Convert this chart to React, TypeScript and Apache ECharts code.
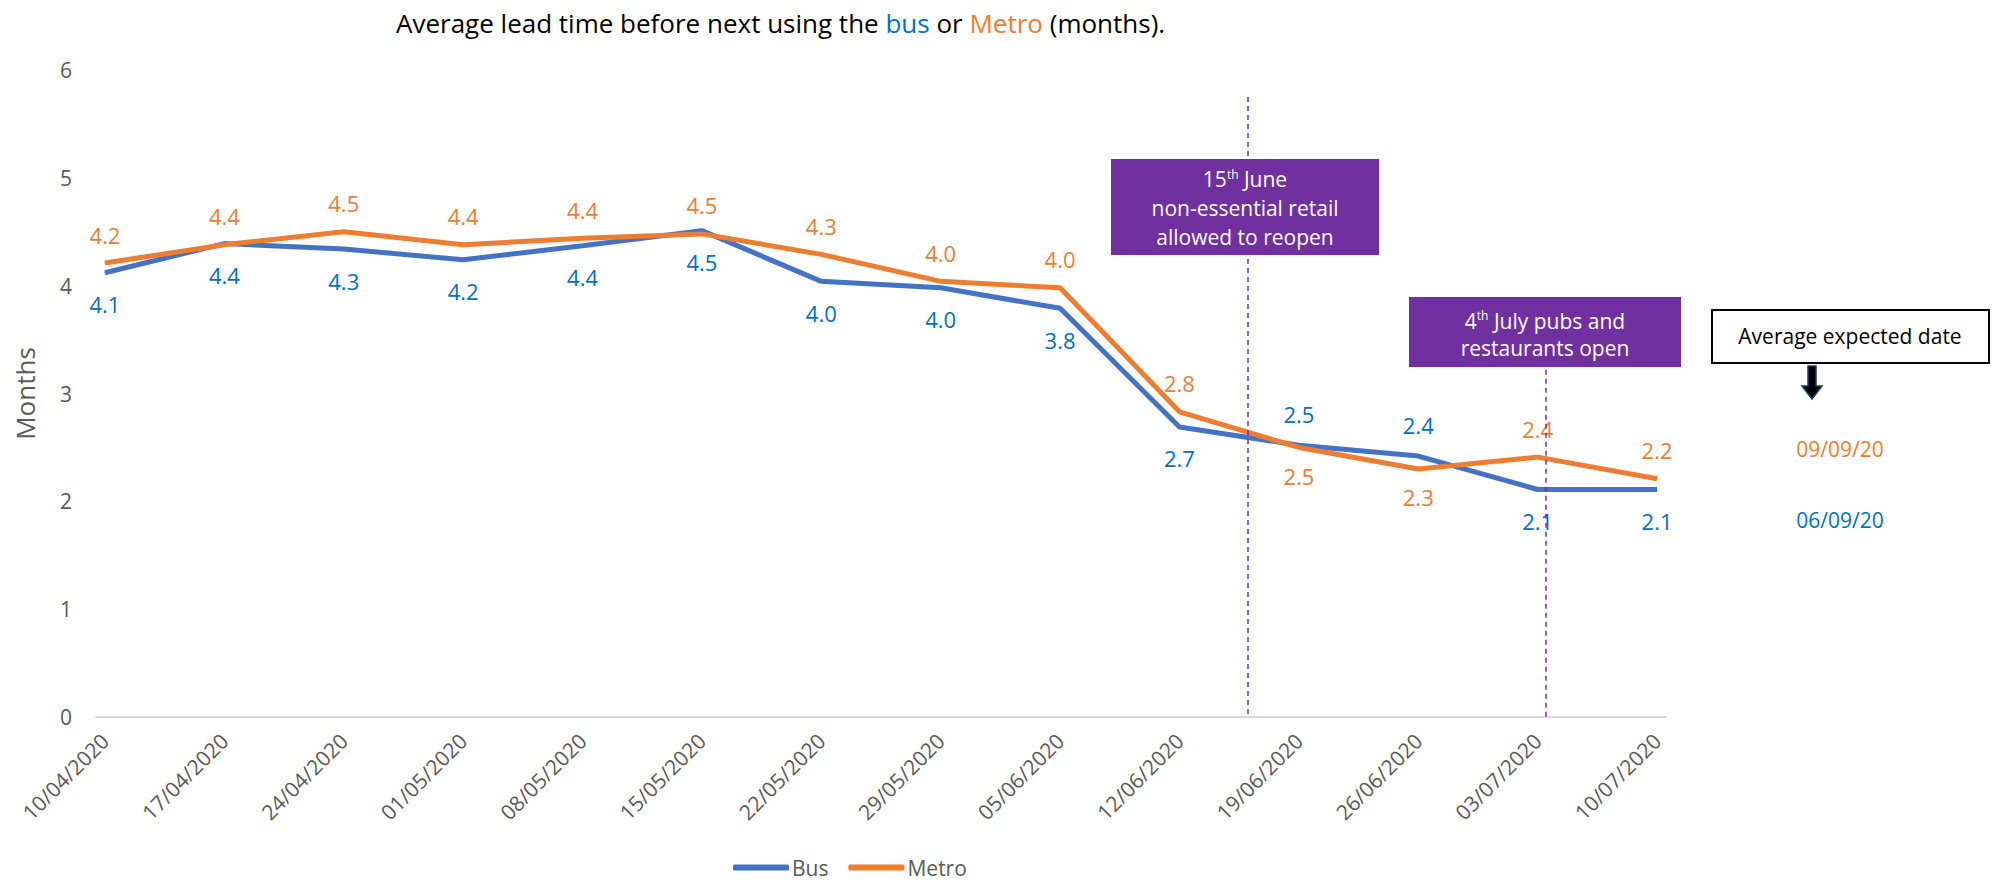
import React, { useEffect, useRef } from "react";
import * as echarts from "echarts";

const categories = [
  "10/04/2020", "17/04/2020", "24/04/2020", "01/05/2020", "08/05/2020", "15/05/2020", "22/05/2020",
  "29/05/2020", "05/06/2020", "12/06/2020", "19/06/2020", "26/06/2020", "03/07/2020", "10/07/2020",
];
const busValues = [4.12, 4.39, 4.34, 4.24, 4.37, 4.51, 4.04, 3.98, 3.79, 2.69, 2.52, 2.42, 2.11, 2.11];
const metroValues = [4.21, 4.38, 4.5, 4.38, 4.44, 4.48, 4.29, 4.04, 3.98, 2.83, 2.5, 2.3, 2.41, 2.21];
const yTicks = [0, 1, 2, 3, 4, 5, 6];
const eventLines = [
  { x: 9.57, top: 5.75 },
  { x: 12.07, top: 3.22 },
];
const expectedDates = { metro: "09/09/20", bus: "06/09/20" };

const busLabelPos = ["bottom", "bottom", "bottom", "bottom", "bottom", "bottom", "bottom", "bottom", "bottom", "bottom", "top", "top", "bottom", "bottom"];
const metroLabelPos = ["top", "top", "top", "top", "top", "top", "top", "top", "top", "top", "bottom", "bottom", "top", "top"];

const FONT = "'Open Sans', Lato, sans-serif";
const GREY = "#595959";
const BUS = "#4472C4";
const BUS_TXT = "#0070C0";
const METRO = "#ED7D31";
const PURPLE = "#7030A0";

export default function App() {
  const ref = useRef<HTMLDivElement>(null);
  useEffect(() => {
    if (!ref.current) return;
    const chart = echarts.init(ref.current, undefined, { renderer: "svg" });
    const fmt = (p: any) => Number(p.value[1]).toFixed(1);
    chart.setOption({
      animation: false,
      textStyle: { fontFamily: FONT },
      title: {
        text: "{a|Average lead time before next using the }{b|bus}{a| or }{c|Metro}{a| (months).}",
        left: 391,
        top: 5,
        textStyle: {
          rich: {
            a: { fontSize: 26, color: "#000", fontFamily: FONT, fontWeight: 500 },
            b: { fontSize: 26, color: BUS_TXT, fontFamily: FONT, fontWeight: 500 },
            c: { fontSize: 26, color: METRO, fontFamily: FONT, fontWeight: 500 },
          },
        },
      },
      legend: {
        data: ["Bus", "Metro"],
        icon: "roundRect",
        left: 728,
        top: 852,
        itemWidth: 56,
        itemHeight: 6,
        itemGap: 20,
        textStyle: { color: GREY, fontSize: 21, fontFamily: FONT, padding: [0, 0, 0, -2] },
      },
      grid: { left: 96, right: 331, top: 70, bottom: 167 },
      xAxis: {
        type: "value",
        min: -0.075,
        max: 13.075,
        splitLine: { show: false },
        axisLine: { show: true, lineStyle: { color: "#D9D9D9", width: 2 } },
        axisTick: { show: false },
        axisLabel: {
          customValues: categories.map((_, i) => i),
          formatter: (v: number) => categories[Math.round(v)],
          rotate: 45,
          color: GREY,
          fontSize: 21,
          fontFamily: FONT,
          margin: 20,
        },
      },
      yAxis: {
        type: "value",
        min: yTicks[0],
        max: yTicks[yTicks.length - 1],
        interval: 1,
        name: "Months",
        nameLocation: "middle",
        nameRotate: 90,
        nameGap: 58,
        nameTextStyle: { color: GREY, fontSize: 26, fontFamily: FONT },
        splitLine: { show: false },
        axisLine: { show: false },
        axisTick: { show: false },
        axisLabel: { color: GREY, fontSize: 21, fontFamily: FONT, margin: 24 },
      },
      series: [
        {
          name: "Bus",
          type: "line",
          symbol: "circle",
          symbolSize: 1,
          color: BUS,
          itemStyle: { color: BUS },
          lineStyle: { width: 5, color: BUS },
          label: { show: true, formatter: fmt, color: BUS_TXT, fontSize: 22, fontFamily: FONT, distance: 20 },
          data: busValues.map((v, i) => ({ value: [i, v], label: { position: busLabelPos[i] } })),
          z: 3,
        },
        {
          name: "Metro",
          type: "line",
          symbol: "circle",
          symbolSize: 1,
          color: METRO,
          itemStyle: { color: METRO },
          lineStyle: { width: 5, color: METRO },
          label: { show: true, formatter: fmt, color: METRO, fontSize: 22, fontFamily: FONT, distance: 17 },
          data: metroValues.map((v, i) => ({ value: [i, v], label: { position: metroLabelPos[i] } })),
          z: 4,
          markLine: {
            silent: true,
            symbol: "none",
            label: { show: false },
            lineStyle: { color: PURPLE, type: [5, 4], width: 1.5 },
            data: eventLines.map((e) => [{ coord: [e.x, e.top] }, { coord: [e.x, 0] }]),
          },
        },
      ],
      graphic: [
        {
          type: "rect",
          z: 100,
          shape: { x: 1111, y: 159, width: 268, height: 96 },
          style: { fill: PURPLE },
        },
        {
          type: "text",
          z: 101,
          x: 1245,
          y: 208,
          style: {
            text: "{n|15}{s|th}{n| June}\n{n|non-essential retail}\n{n|allowed to reopen}",
            align: "center",
            verticalAlign: "middle",
            fill: "#fff",
            rich: {
              n: { fontSize: 21, fill: "#fff", fontFamily: FONT, lineHeight: 29 },
              s: { fontSize: 12, fill: "#fff", fontFamily: FONT, lineHeight: 29, padding: [0, 0, 10, 0] },
            },
          },
        },
        {
          type: "rect",
          z: 100,
          shape: { x: 1409, y: 297, width: 272, height: 70 },
          style: { fill: PURPLE },
        },
        {
          type: "text",
          z: 101,
          x: 1545,
          y: 334,
          style: {
            text: "{n|4}{s|th}{n| July pubs and}\n{n|restaurants open}",
            align: "center",
            verticalAlign: "middle",
            fill: "#fff",
            rich: {
              n: { fontSize: 21, fill: "#fff", fontFamily: FONT, lineHeight: 27 },
              s: { fontSize: 12, fill: "#fff", fontFamily: FONT, lineHeight: 27, padding: [0, 0, 10, 0] },
            },
          },
        },
        {
          type: "rect",
          z: 100,
          shape: { x: 1712, y: 310, width: 277, height: 53 },
          style: { fill: "#fff", stroke: "#000", lineWidth: 2 },
        },
        {
          type: "text",
          z: 101,
          x: 1850,
          y: 336,
          style: {
            text: "Average expected date",
            align: "center",
            verticalAlign: "middle",
            fill: "#000",
            fontSize: 21,
            fontFamily: FONT,
          },
        },
        {
          type: "polygon",
          z: 101,
          shape: {
            points: [
              [1808, 366], [1816, 366], [1816, 386], [1822, 386], [1812, 399], [1802, 386], [1808, 386],
            ],
          },
          style: { fill: "#000", stroke: "#1F3864", lineWidth: 1.5 },
        },
        {
          type: "text",
          z: 101,
          x: 1840,
          y: 449,
          style: { text: expectedDates.metro, align: "center", verticalAlign: "middle", fill: METRO, fontSize: 21, fontFamily: FONT },
        },
        {
          type: "text",
          z: 101,
          x: 1840,
          y: 520,
          style: { text: expectedDates.bus, align: "center", verticalAlign: "middle", fill: BUS_TXT, fontSize: 21, fontFamily: FONT },
        },
      ],
    });
    return () => chart.dispose();
  }, []);
  return <div ref={ref} style={{ position: "absolute", left: 0, top: 0, width: 1997, height: 884 }} />;
}
